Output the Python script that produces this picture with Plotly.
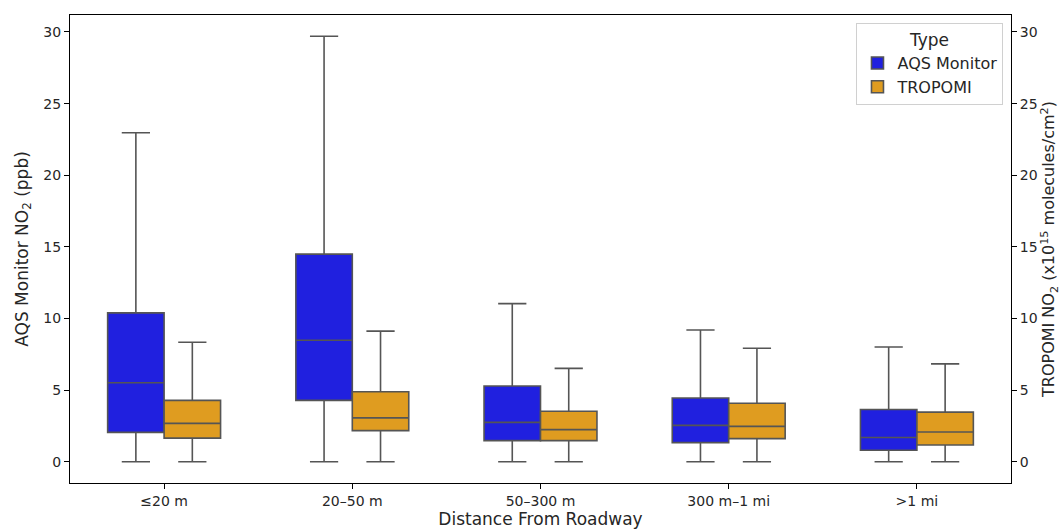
import plotly.graph_objects as go

categories = ["≤20 m", "20–50 m", "50–300 m", "300 m–1 mi", ">1 mi"]

# AQS Monitor NO2 (ppb)
aqs_low = [0, 0, 0, 0, 0]
aqs_q1 = [2.05, 4.28, 1.47, 1.33, 0.80]
aqs_med = [5.51, 8.48, 2.75, 2.54, 1.69]
aqs_q3 = [10.39, 14.49, 5.29, 4.45, 3.65]
aqs_high = [22.97, 29.70, 11.04, 9.20, 8.01]

# TROPOMI NO2 (x10^15 molecules/cm^2)
tro_low = [0, 0, 0, 0, 0]
tro_q1 = [1.65, 2.17, 1.47, 1.61, 1.17]
tro_med = [2.68, 3.06, 2.24, 2.47, 2.07]
tro_q3 = [4.28, 4.88, 3.52, 4.08, 3.46]
tro_high = [8.34, 9.12, 6.52, 7.92, 6.83]

y_ticks = [0, 5, 10, 15, 20, 25, 30]

FONT = "DejaVu Sans"
LINE = "#555555"
ymax = max(aqs_high + tro_high)
yr = [-0.05 * ymax, 1.05 * ymax]

fig = go.Figure()
fig.add_trace(go.Box(
    name="AQS Monitor", x=categories,
    q1=aqs_q1, median=aqs_med, q3=aqs_q3,
    lowerfence=aqs_low, upperfence=aqs_high,
    fillcolor="#2020DF", line=dict(color=LINE, width=1.6),
    whiskerwidth=0.5, boxpoints=False, hoverinfo="skip",
))
fig.add_trace(go.Box(
    name="TROPOMI", x=categories,
    q1=tro_q1, median=tro_med, q3=tro_q3,
    lowerfence=tro_low, upperfence=tro_high,
    fillcolor="#DF9C20", line=dict(color=LINE, width=1.6),
    whiskerwidth=0.5, boxpoints=False, hoverinfo="skip",
))
# invisible trace to show the right axis
fig.add_trace(go.Scatter(
    x=categories, y=tro_med, yaxis="y2", mode="markers",
    marker=dict(opacity=0), showlegend=False, hoverinfo="skip",
))

fig.update_layout(
    width=1063, height=529,
    margin=dict(l=70, r=52, t=15, b=46),
    paper_bgcolor="white", plot_bgcolor="white",
    font=dict(family=FONT, size=14, color="#262626"),
    boxmode="group", boxgap=0.4, boxgroupgap=0,
    xaxis=dict(
        type="category", range=[-0.5, 4.5], automargin=False,
        showline=True, linecolor="black", linewidth=1.2, mirror=True,
        ticks="outside", ticklen=5, tickcolor="black", showgrid=False,
        title=dict(text="Distance From Roadway", font=dict(size=17), standoff=2),
        tickfont=dict(size=14),
    ),
    yaxis=dict(
        range=yr, tickvals=y_ticks, automargin=False,
        showline=True, linecolor="black", linewidth=1.2, mirror=True,
        ticks="outside", ticklen=5, tickcolor="black", showgrid=False, zeroline=False,
        title=dict(text="AQS Monitor NO<sub>2</sub> (ppb)", font=dict(size=17), standoff=10),
        tickfont=dict(size=14),
    ),
    yaxis2=dict(
        range=yr, tickvals=y_ticks, overlaying="y", side="right", automargin=False,
        showline=False, ticks="outside", ticklen=5, tickcolor="black",
        showgrid=False, zeroline=False,
        title=dict(text="TROPOMI NO<sub>2</sub> (x10<sup>15</sup> molecules/cm<sup>2</sup>)",
                   font=dict(size=16), standoff=2),
        tickfont=dict(size=14),
    ),
    legend=dict(
        x=0.992, y=0.983, xanchor="right", yanchor="top",
        bgcolor="rgba(255,255,255,0.8)", bordercolor="#d0d0d0", borderwidth=1,
        title=dict(text="Type", side="top center", font=dict(size=17)),
        font=dict(size=16), itemwidth=30,
    ),
)

fig.write_html(
    "out.html",
    config={"displayModeBar": False},
    post_script="document.body.style.margin='0';document.body.style.padding='0';",
)
